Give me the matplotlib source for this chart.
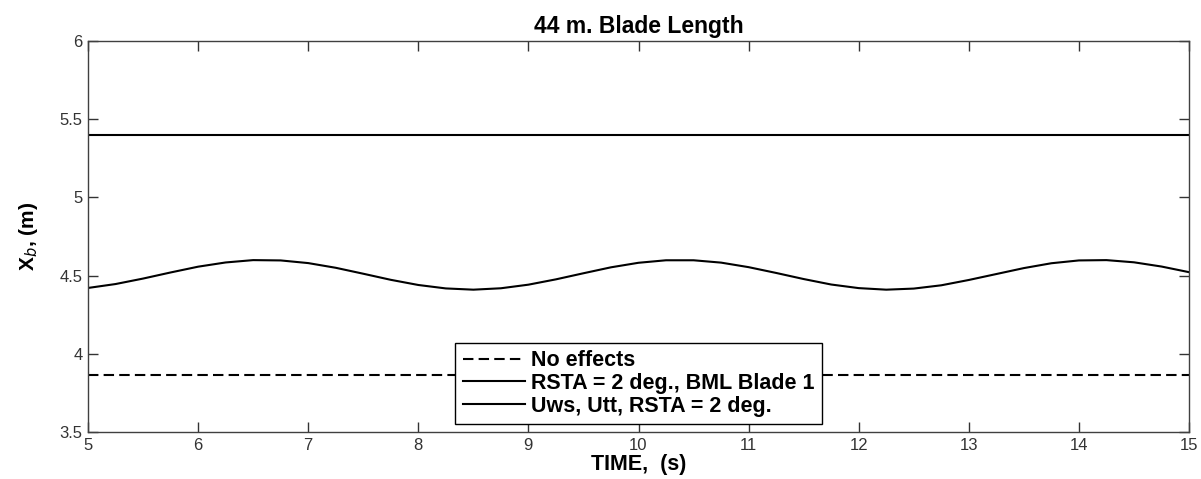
import numpy as np
import matplotlib
matplotlib.use("Agg")
import matplotlib.pyplot as plt

plt.rcParams['font.family'] = ['Liberation Sans', 'DejaVu Sans']

# time axis, s
time = [5.0, 5.25, 5.5, 5.75, 6.0, 6.25, 6.5, 6.75, 7.0, 7.25, 7.5, 7.75,
        8.0, 8.25, 8.5, 8.75, 9.0, 9.25, 9.5, 9.75, 10.0, 10.25, 10.5, 10.75,
        11.0, 11.25, 11.5, 11.75, 12.0, 12.25, 12.5, 12.75, 13.0, 13.25, 13.5,
        13.75, 14.0, 14.25, 14.5, 14.75, 15.0]

# X_b (m)
no_effects = [3.865] * len(time)
rsta_bml = [5.4] * len(time)
uws_utt = [4.421, 4.446, 4.481, 4.520, 4.557, 4.584, 4.599, 4.597, 4.580,
           4.550, 4.512, 4.473, 4.440, 4.418, 4.410, 4.419, 4.442, 4.476,
           4.515, 4.553, 4.582, 4.598, 4.598, 4.583, 4.554, 4.517, 4.478,
           4.443, 4.420, 4.410, 4.417, 4.438, 4.472, 4.510, 4.548, 4.579,
           4.597, 4.599, 4.585, 4.558, 4.522]

labels = ['No effects', 'RSTA = 2 deg., BML Blade 1', 'Uws, Utt, RSTA = 2 deg.']

fig = plt.figure(figsize=(12.01, 4.79), dpi=100)
ax = fig.add_axes([88/1201, 1-432/479, (1189-88)/1201, (432-41)/479])

ax.plot(time, no_effects, 'k--', lw=1.5, dashes=(5, 2.5), label=labels[0])
ax.plot(time, rsta_bml, 'k-', lw=1.5, label=labels[1])
ax.plot(time, uws_utt, 'k-', lw=1.5, label=labels[2])

ax.set_xlim(5, 15)
ax.set_ylim(3.5, 6)
ax.set_xticks(np.arange(5, 16, 1))
ax.set_yticks([3.5, 4, 4.5, 5, 5.5, 6])
ax.set_yticklabels(['3.5', '4', '4.5', '5', '5.5', '6'])
ax.tick_params(direction='in', length=7, width=1, top=True, right=True,
               labelsize=12, colors='#333333', pad=4)
for s in ax.spines.values():
    s.set_color('#404040')
    s.set_linewidth(1)

ax.set_title('44 m. Blade Length', fontsize=16.5, fontweight='bold', pad=6)
ax.set_xlabel('TIME,  (s)', fontsize=15.5, fontweight='bold', labelpad=1)
ax.set_ylabel('X$_b$, (m)', fontsize=15, fontweight='bold', labelpad=14)

leg = ax.legend(loc='lower center', bbox_to_anchor=(0.5, 0.02),
                prop={'weight': 'bold', 'size': 15.5}, fancybox=False,
                edgecolor='black', framealpha=1, handlelength=2.9,
                handletextpad=0.25, labelspacing=0.08, borderpad=0.35,
                borderaxespad=0)
leg.get_frame().set_linewidth(1)

fig.savefig('out.png', dpi=100)
